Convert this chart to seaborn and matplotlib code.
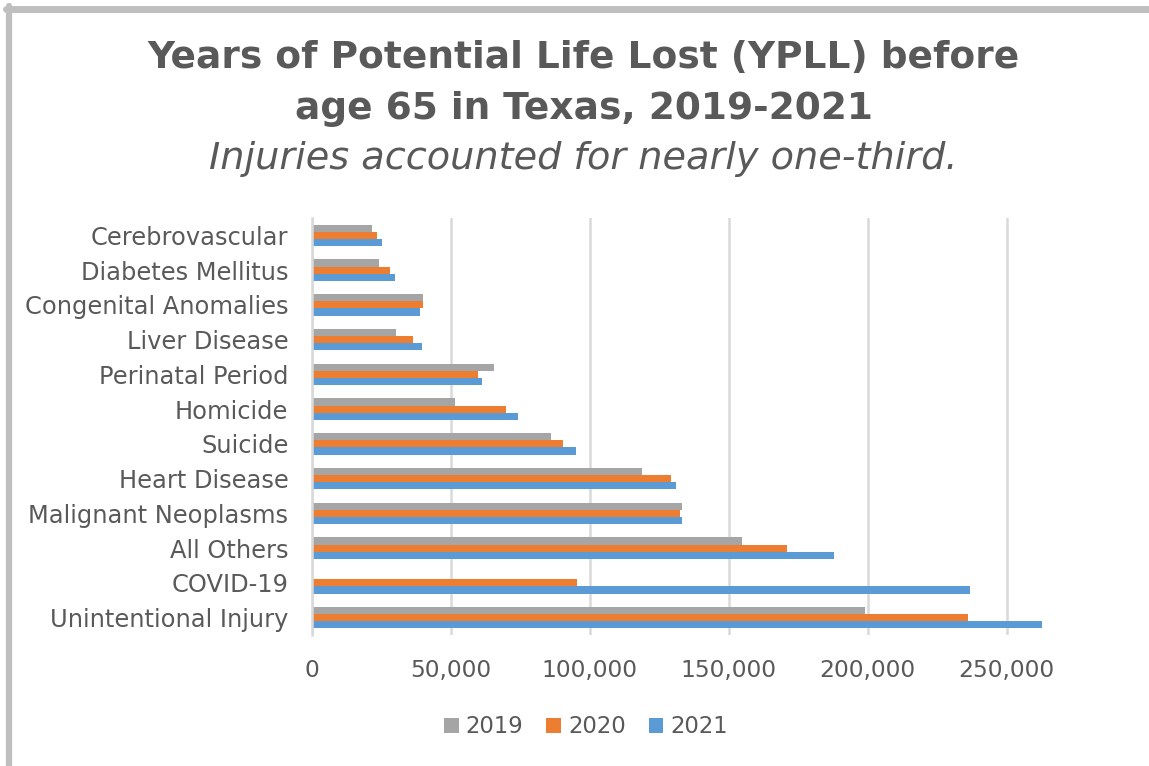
import matplotlib
matplotlib.use("Agg")
import matplotlib.pyplot as plt
from matplotlib.lines import Line2D
from matplotlib.ticker import FuncFormatter
import seaborn as sns
import pandas as pd

categories = ["Cerebrovascular", "Diabetes Mellitus", "Congenital Anomalies", "Liver Disease",
              "Perinatal Period", "Homicide", "Suicide", "Heart Disease",
              "Malignant Neoplasms", "All Others", "COVID-19", "Unintentional Injury"]
years = ["2019", "2020", "2021"]
yll_2019 = [21600, 24000, 40000, 30300, 65600, 51600, 85900, 118700, 133300, 154900, 0, 199000]
yll_2020 = [23500, 28200, 40000, 36200, 59700, 69900, 90200, 129300, 132300, 171000, 95500, 236100]
yll_2021 = [25300, 29800, 39000, 39500, 61200, 74300, 95000, 130900, 133300, 187900, 236600, 262700]
x_ticks = [0, 50000, 100000, 150000, 200000, 250000]

df = pd.DataFrame({
    "cause": categories * 3,
    "year": [y for y in years for _ in categories],
    "yll": yll_2019 + yll_2020 + yll_2021,
})

sns.set_theme(style="white")
plt.rcParams["font.family"] = ["DejaVu Sans"]
TXT = "#595959"
palette = {"2019": "#A5A5A5", "2020": "#ED7D31", "2021": "#5B9BD5"}

fig = plt.figure(figsize=(11.49, 7.66), dpi=100)
ax = fig.add_axes([0.2715, 0.171, 0.641, 0.5444])

sns.barplot(data=df, y="cause", x="yll", hue="year", order=categories, hue_order=years,
            palette=palette, width=0.62, orient="h", ax=ax, saturation=1, linewidth=0)

ax.set_xlim(0, 265000)
ax.set_xticks(x_ticks)
ax.xaxis.set_major_formatter(FuncFormatter(lambda v, p: f"{int(v):,}"))
ax.grid(axis="x", color="#D9D9D9", linewidth=1.8)
ax.set_axisbelow(True)
for s in ["top", "right", "bottom"]:
    ax.spines[s].set_visible(False)
ax.spines["left"].set_color("#D9D9D9")
ax.spines["left"].set_linewidth(1.8)
ax.set_xlabel("")
ax.set_ylabel("")
ax.tick_params(axis="both", length=0, colors=TXT)
ax.tick_params(axis="y", labelsize=17.4, pad=17)
ax.tick_params(axis="x", labelsize=16.8, pad=17)

handles, labels = ax.get_legend_handles_labels()
ax.get_legend().remove()
fig.legend(handles, labels, loc="center", bbox_to_anchor=(0.51, 0.051), ncol=3, frameon=False,
           fontsize=16.4, labelcolor=TXT, handlelength=0.65, handleheight=0.65,
           handletextpad=0.3, columnspacing=1.0)

fig.text(0.508, 0.924, "Years of Potential Life Lost (YPLL) before", ha="center", va="center",
         fontsize=27, fontweight="bold", color=TXT)
fig.text(0.508, 0.858, "age 65 in Texas, 2019-2021", ha="center", va="center",
         fontsize=27, fontweight="bold", color=TXT)
fig.text(0.508, 0.793, "Injuries accounted for nearly one-third.", ha="center", va="center",
         fontsize=27.5, style="italic", color=TXT)

# outer frame (top and left edges visible)
fig.add_artist(Line2D([0.0079, 0.0079], [0, 0.9916], transform=fig.transFigure,
                      color="#BFBFBF", linewidth=4.5))
fig.add_artist(Line2D([0.0052, 1.0], [0.9889, 0.9889], transform=fig.transFigure,
                      color="#BFBFBF", linewidth=5))

fig.savefig("out.png", dpi=100, facecolor="white")
